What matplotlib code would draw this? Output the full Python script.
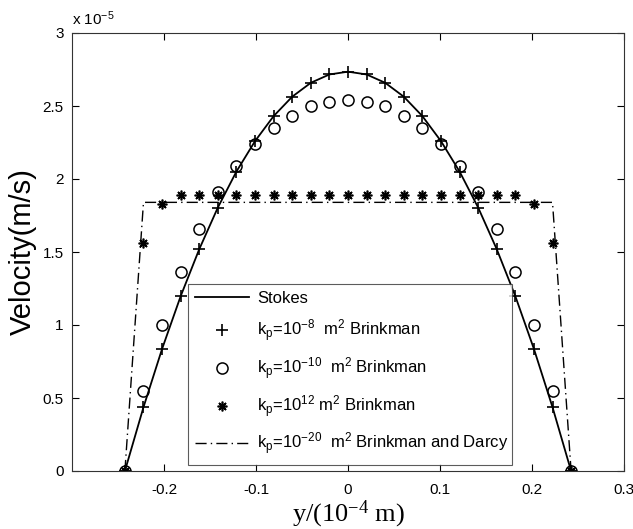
import matplotlib
matplotlib.use("Agg")
import matplotlib.pyplot as plt

plt.rcParams['font.family'] = ['Liberation Sans', 'DejaVu Sans']
plt.rcParams['mathtext.default'] = 'regular'

# positions across the channel (units of 1e-4 m)
y_pos = [-0.2425, -0.2223, -0.2021, -0.1819, -0.1617, -0.1415, -0.1213, -0.1010,
         -0.0808, -0.0606, -0.0404, -0.0202, 0.0, 0.0202, 0.0404, 0.0606, 0.0808,
         0.1010, 0.1213, 0.1415, 0.1617, 0.1819, 0.2021, 0.2223, 0.2425]

# velocities (x 1e-5 m/s)
stokes = [0.0, 0.437, 0.836, 1.197, 1.519, 1.804, 2.051, 2.260, 2.431, 2.564, 2.659, 2.716,
          2.735, 2.716, 2.659, 2.564, 2.431, 2.260, 2.051, 1.804, 1.519, 1.197, 0.836, 0.437, 0.0]
kp_1e8 = [0.0, 0.437, 0.836, 1.197, 1.519, 1.804, 2.051, 2.260, 2.431, 2.564, 2.659, 2.716,
          2.735, 2.716, 2.659, 2.564, 2.431, 2.260, 2.051, 1.804, 1.519, 1.197, 0.836, 0.437, 0.0]
kp_1e10 = [0.0, 0.55, 1.00, 1.36, 1.66, 1.91, 2.09, 2.24, 2.35, 2.43, 2.50, 2.53,
           2.54, 2.53, 2.50, 2.43, 2.35, 2.24, 2.09, 1.91, 1.66, 1.36, 1.00, 0.55, 0.0]
kp_1e12 = [0.0, 1.56, 1.83, 1.89, 1.89, 1.89, 1.89, 1.89, 1.89, 1.89, 1.89, 1.89,
           1.89, 1.89, 1.89, 1.89, 1.89, 1.89, 1.89, 1.89, 1.89, 1.89, 1.83, 1.56, 0.0]
kp_1e20 = [0.0, 1.84, 1.84, 1.84, 1.84, 1.84, 1.84, 1.84, 1.84, 1.84, 1.84, 1.84,
           1.84, 1.84, 1.84, 1.84, 1.84, 1.84, 1.84, 1.84, 1.84, 1.84, 1.84, 1.84, 0.0]

labels = ['Stokes',
          r'k$_{p}$=10$^{-8}$  m$^{2}$ Brinkman',
          r'k$_{p}$=10$^{-10}$  m$^{2}$ Brinkman',
          r'k$_{p}$=10$^{12}$ m$^{2}$ Brinkman',
          r'k$_{p}$=10$^{-20}$  m$^{2}$ Brinkman and Darcy']

fig = plt.figure(figsize=(6.33, 5.29), dpi=100)
ax = fig.add_axes([72/633, 1-471/529, 552/633, 438/529])

ax.plot(y_pos, stokes, '-', color='black', lw=1.3, label=labels[0])
ax.plot(y_pos, kp_1e8, color='black', marker='+', ms=8, mew=1.2, ls='none', label=labels[1])
ax.plot(y_pos, kp_1e10, color='black', marker='o', mfc='none', ms=8, mew=1.1, ls='none', label=labels[2])
ax.plot(y_pos, kp_1e12, color='black', marker=(8, 2, 0), ms=7, mew=1.2, ls='none', label=labels[3])
ax.plot(y_pos, kp_1e20, color='black', lw=1.0, ls=(0, (8, 3, 1, 3)), label=labels[4])

ax.set_xlim(-0.3, 0.3)
ax.set_ylim(0, 3)
ax.set_xticks([-0.2, -0.1, 0, 0.1, 0.2, 0.3])
ax.set_xticklabels(['-0.2', '-0.1', '0', '0.1', '0.2', '0.3'])
ax.set_yticks([0, 0.5, 1, 1.5, 2, 2.5, 3])
ax.set_yticklabels(['0', '0.5', '1', '1.5', '2', '2.5', '3'])
ax.tick_params(axis='x', pad=9)
ax.tick_params(axis='y', pad=6)
ax.tick_params(direction='in', top=True, right=True, labelsize=11, length=5, width=0.8)
for s in ax.spines.values():
    s.set_linewidth(0.8)
    s.set_color('#333333')

ax.text(0.0, 1.012, r'x 10$^{-5}$', transform=ax.transAxes, fontsize=11, ha='left', va='bottom')

ax.set_ylabel('Velocity(m/s)', fontsize=21, labelpad=4)
ax.set_xlabel(r'y/(10$^{-4}$ m)', fontsize=19, family=['Liberation Serif'], labelpad=1)

leg = ax.legend(loc='lower left', bbox_to_anchor=(0.210, 0.0137, 0.587, 0.404), mode='expand',
                fontsize=12, frameon=True, fancybox=False, edgecolor='#333333',
                borderaxespad=0, labelspacing=0.68, handlelength=3.2, handletextpad=0.5,
                borderpad=0.45)
leg.get_frame().set_linewidth(0.8)

fig.savefig('out.png', dpi=100)
